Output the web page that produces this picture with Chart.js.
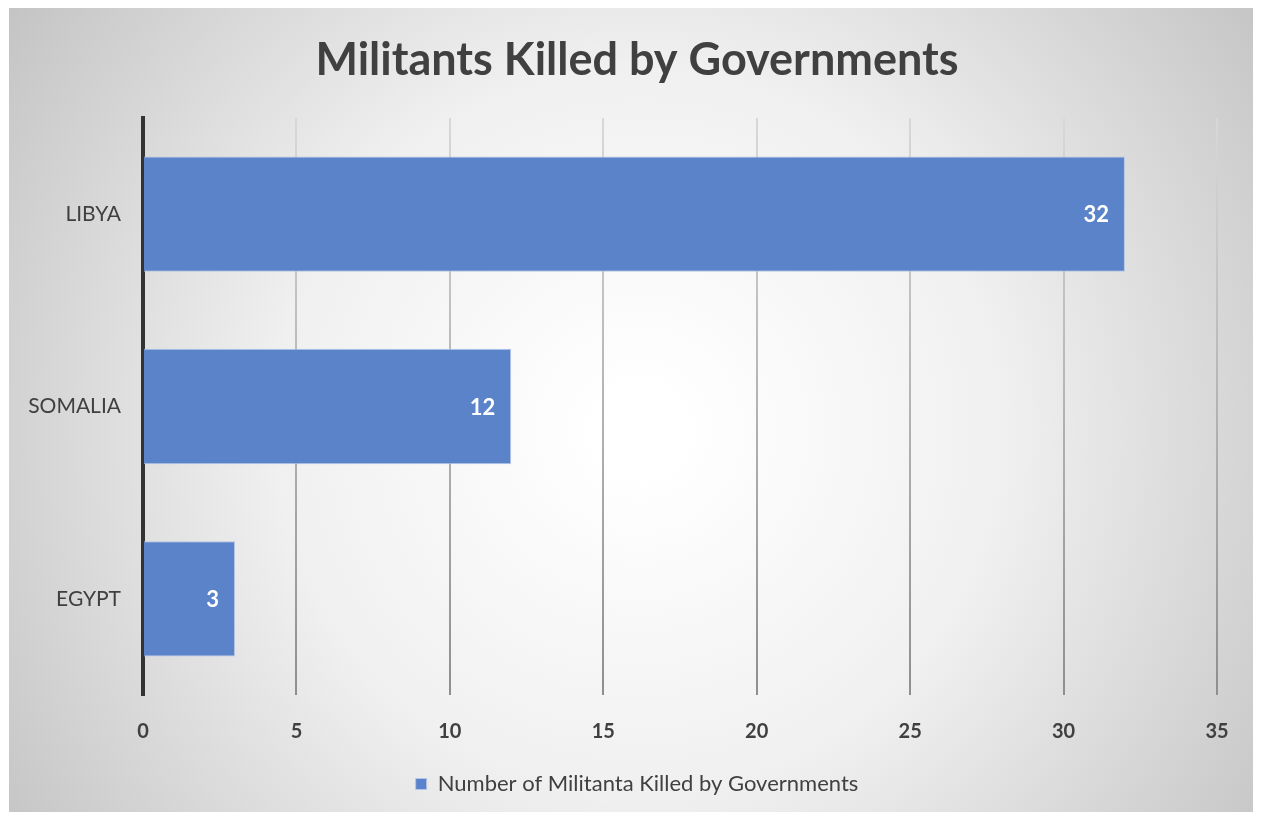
<!DOCTYPE html>
<html>
<head>
<meta charset="utf-8">
<script src="https://cdn.jsdelivr.net/npm/chart.js@4/dist/chart.umd.min.js"></script>
<style>
  html, body { margin: 0; padding: 0; background: #ffffff; }
  #wrap { width: 1262px; height: 819px; }
</style>
</head>
<body>
<div id="wrap"><canvas id="chart_militants" width="1262" height="819"></canvas></div>
<script>
const countries = ["LIBYA", "SOMALIA", "EGYPT"];
const militantsKilled = [32, 12, 3];
const seriesName = "Number of Militanta Killed by Governments";
const chartTitle = "Militants Killed by Governments";
const xMax = 35;
const xStep = 5;

const textColor = "#404040";
const barColor = "#5a83ca";
const fontFamily = "Lato, 'Open Sans', sans-serif";

// grey radial backdrop like the office chart style
const backdrop = {
  id: "backdrop",
  beforeDraw(chart) {
    const ctx = chart.ctx;
    const w = chart.width, h = chart.height;
    ctx.save();
    ctx.fillStyle = "#ffffff";
    ctx.fillRect(0, 0, w, h);
    const g = ctx.createRadialGradient(640, 430, 40, 640, 430, 760);
    g.addColorStop(0, "#ffffff");
    g.addColorStop(0.45, "#f0f0f0");
    g.addColorStop(1, "#c4c4c4");
    ctx.fillStyle = g;
    ctx.fillRect(9, 8, w - 18, h - 15);
    ctx.restore();
  }
};

// value labels inside the end of each bar
const barValues = {
  id: "barValues",
  afterDatasetsDraw(chart) {
    const ctx = chart.ctx;
    const meta = chart.getDatasetMeta(0);
    ctx.save();
    ctx.font = "bold 22px " + fontFamily;
    ctx.fillStyle = "#ffffff";
    ctx.textAlign = "right";
    ctx.textBaseline = "middle";
    meta.data.forEach(function (bar, i) {
      ctx.fillText(String(militantsKilled[i]), bar.x - 16, bar.y + 1);
    });
    ctx.restore();
  }
};

const canvas = document.getElementById("chart_militants");
const gctx = canvas.getContext("2d");
const gridGrad = gctx.createLinearGradient(0, 118, 0, 692);
gridGrad.addColorStop(0, "#d8d8d8");
gridGrad.addColorStop(1, "#8f8f8f");

new Chart(canvas, {
  type: "bar",
  data: {
    labels: countries,
    datasets: [
      {
        label: seriesName,
        data: militantsKilled,
        backgroundColor: barColor,
        borderColor: "#b4c6e7",
        borderWidth: 1,
        borderSkipped: "left",
        barPercentage: 0.6,
        categoryPercentage: 1.0,
      },
    ],
  },
  options: {
    indexAxis: "y",
    responsive: false,
    animation: false,
    layout: {
      padding: { left: 27, right: 15, top: 8, bottom: 14 },
    },
    plugins: {
      title: {
        display: true,
        text: chartTitle,
        color: textColor,
        font: { family: fontFamily, size: 45, weight: "bold", lineHeight: 1.2 },
        padding: { top: 25, bottom: 31 },
      },
      legend: {
        position: "bottom",
        labels: {
          color: textColor,
          font: { family: fontFamily, size: 22 },
          boxWidth: 11,
          boxHeight: 11,
          padding: 10,
        },
      },
      tooltip: { enabled: false },
    },
    scales: {
      x: {
        min: 0,
        max: xMax,
        ticks: {
          stepSize: xStep,
          color: textColor,
          font: { family: fontFamily, size: 20, weight: "bold" },
          padding: 25,
        },
        grid: {
          color: function (c) { return c.tick && c.tick.value === 0 ? "rgba(0,0,0,0)" : gridGrad; },
          lineWidth: 2,
          drawTicks: false,
        },
        border: { display: false },
        afterFit: function (scale) { scale.height = 68; },
      },
      y: {
        ticks: {
          color: textColor,
          font: { family: fontFamily, size: 21 },
          padding: 22,
        },
        grid: { display: false, drawTicks: false },
        border: { display: true, color: "#333333", width: 4 },
        afterFit: function (scale) { scale.width = 116; },
      },
      // empty spacer on the right so the title and legend sit where the original has them
      ySpacer: {
        type: "category",
        position: "right",
        ticks: { display: false },
        grid: { display: false, drawTicks: false },
        border: { display: false },
        afterFit: function (scale) { scale.width = 30; },
      },
    },
  },
  plugins: [backdrop, barValues],
});
</script>
</body>
</html>
